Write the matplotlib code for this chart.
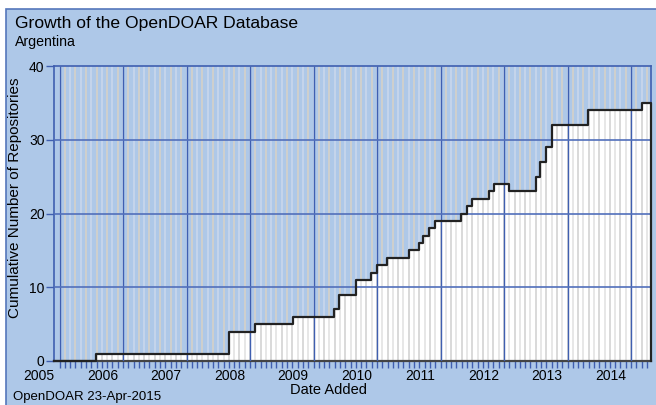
import matplotlib
matplotlib.use('Agg')
import matplotlib.pyplot as plt
import numpy as np
from matplotlib.patches import Rectangle

plt.rcParams['font.family'] = ['Liberation Sans', 'DejaVu Sans']

# ---- data (fractional year of each change, cumulative count after change) ----
step_dates = [2005.238, 2005.894, 2007.994, 2008.406, 2008.992, 2009.647, 2009.726,
              2009.994, 2010.230, 2010.315, 2010.472, 2010.816, 2010.986, 2011.049,
              2011.143, 2011.228, 2011.647, 2011.732, 2011.816, 2012.079, 2012.162,
              2012.403, 2012.816, 2012.894, 2012.986, 2013.076, 2013.643, 2014.488]
counts = [0, 1, 4, 5, 6, 7, 9,
          11, 12, 13, 14, 15, 16, 17,
          18, 19, 20, 21, 22, 23, 24,
          23, 25, 27, 29, 32, 34, 35]
x_end = 2014.63
year_labels = [2005, 2006, 2007, 2008, 2009, 2010, 2011, 2012, 2013, 2014]
y_ticks = [0, 10, 20, 30, 40]
grid_offset = 0.32

W, H = 656, 405
BG = '#aec8e8'
GRID = '#3f5fb0'

fig = plt.figure(figsize=(W / 100, H / 100), dpi=100)
fig.patch.set_facecolor('white')
fig.patches.append(Rectangle((6 / W, -0.01), 1.02 - 6 / W, 1 - 9 / H + 0.01,
                             transform=fig.transFigure, facecolor=BG,
                             edgecolor='#5577bb', lw=1.2, zorder=-10))

ax = fig.add_axes([54.3 / W, 1 - 361 / H, (650.7 - 54.3) / W, (361 - 66) / H])
ax.set_facecolor(BG)
x0 = step_dates[0]
ax.set_xlim(x0, x_end)
ax.set_ylim(0, 40)

xs = np.array(step_dates + [x_end])
ys = np.array(counts + [counts[-1]])
ax.fill_between(xs, ys, step='post', color='white', lw=0, zorder=1)

# monthly stripes
months = year_labels[0] + grid_offset + np.arange(0, 12 * 11) / 12.0
months = months[(months > x0 + 0.01) & (months < x_end - 0.01)]
idx = np.searchsorted(step_dates, months, side='right') - 1
level = np.array(counts)[idx]
for i, (m, lv) in enumerate(zip(months, level)):
    low_c = '#cfcfcf' if i % 2 == 0 else '#e0e0e0'
    up_c = '#cbd8ec' if i % 2 == 0 else '#d8d2c6'
    ax.vlines(m, 0, lv, color=low_c, lw=1.1, zorder=2)
    ax.vlines(m, lv, 40, color=up_c, lw=1.1, zorder=2)

# major grid
majors = [y + grid_offset for y in year_labels]
ax.vlines(majors, 0, 40, color=GRID, lw=1.0, zorder=3)
ax.hlines(y_ticks[1:-1], x0, x_end, color='#5270bb', lw=1.2, zorder=3)

# step line
lx = step_dates + [x_end, x_end]
ly = counts + [counts[-1], 0]
ax.plot(lx, ly, drawstyle='steps-post', color='#222222', lw=1.6, zorder=4,
        clip_on=False)

for s in ['left', 'top', 'right']:
    ax.spines[s].set_color(GRID)
    ax.spines[s].set_linewidth(1.2)
ax.spines['bottom'].set_color('#444444')
ax.spines['bottom'].set_linewidth(1.6)

ax.set_yticks(y_ticks)
ax.tick_params(axis='y', direction='out', length=6, width=1, color=GRID,
               labelsize=10, pad=1)
ax.set_xticks([])
ax.set_xticks(months, minor=True)
ax.tick_params(axis='x', which='minor', direction='out', length=5, width=1,
               color=GRID)

tr = ax.get_xaxis_transform()
for y in year_labels:
    ax.text(y, -15 / 295, str(y), transform=tr, ha='center', va='center',
            fontsize=10, clip_on=False)

fig.text(15 / W, 1 - 28.3 / H, 'Growth of the OpenDOAR Database', fontsize=12.6,
         va='baseline', ha='left')
fig.text(15 / W, 1 - 46 / H, 'Argentina', fontsize=10.2, va='baseline', ha='left')
fig.text(15 / W, 1 - 198 / H, 'Cumulative Number of Repositories', rotation=90,
         fontsize=11, ha='center', va='center')
fig.text(329 / W, 1 - 390 / H, 'Date Added', fontsize=10.5, ha='center', va='center')
fig.text(13 / W, 1 - 397 / H, 'OpenDOAR 23-Apr-2015', fontsize=9.5, ha='left',
         va='center')

fig.savefig('out.png', dpi=100, facecolor=fig.get_facecolor())
